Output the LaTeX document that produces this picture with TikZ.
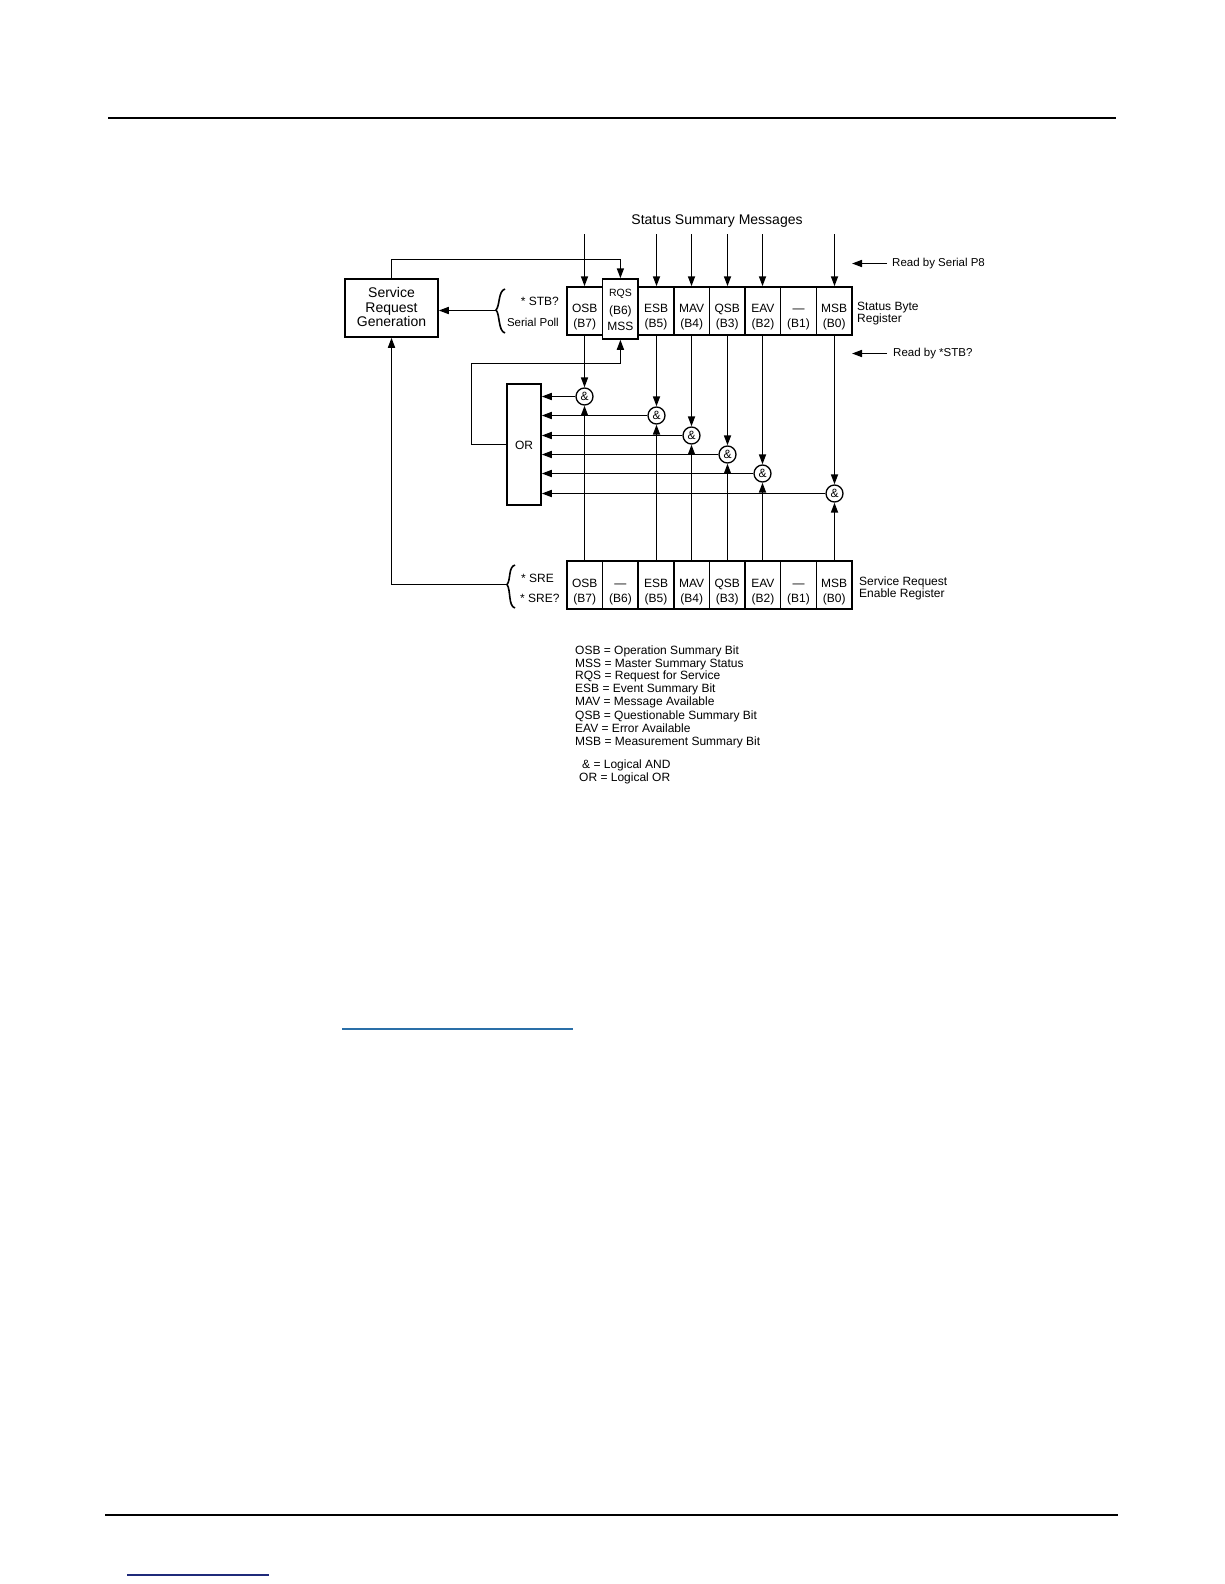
\documentclass[tikz,border=0pt]{standalone}
\usepackage{fontspec}
\setmainfont{Liberation Sans}
\usetikzlibrary{arrows.meta}
\definecolor{linkblue}{HTML}{2A6FA8}
\definecolor{linknavy}{HTML}{1F2A7A}
\begin{document}
\begin{tikzpicture}[x=1pt,y=-1pt,
  box/.style={draw, line width=1.5pt, inner sep=0pt},
  cellbox/.style={box, minimum width=35.625pt, minimum height=48pt},
  txt/.style={inner sep=0pt, text height=0.72em, text depth=0pt, font=\fontsize{12}{14}\selectfont},
  txtsm/.style={txt, font=\fontsize{11.5}{13}\selectfont},
  txtbig/.style={txt, font=\fontsize{14}{16}\selectfont},
  ln/.style={line width=1.6pt},
  arr/.style={ln, -{Triangle[length=10pt,width=7pt]}},
  andg/.style={draw, circle, line width=1.3pt, minimum size=17pt, inner sep=0pt, fill=white, font=\fontsize{12}{13}\selectfont}
]
\useasboundingbox (0,0) rectangle (1224,1584);

% page rules
\draw[line width=1.5pt] (108,118) -- (1116,118);
\draw[line width=2.7pt] (105,1515) -- (1118,1515);
\draw[linkblue, line width=1.3pt] (342,1029) -- (573,1029);
\draw[linknavy, line width=1.3pt] (127,1575) -- (269,1575);

% title
\node[txtbig] (title) at (717,221) {Status Summary Messages};

% service request generation
\node[box, minimum width=93pt, minimum height=58pt] (srg) at (391.5,308) {};
\node[txtbig] (srg1) at (391.5,294) {Service};
\node[txtbig] (srg2) at (391.5,308.5) {Request};
\node[txtbig] (srg3) at (391.5,323) {Generation};

% top register cells
\foreach \i/\a/\b in {0/OSB/(B7),2/ESB/(B5),3/MAV/(B4),4/QSB/(B3),5/EAV/(B2),6/—/(B1),7/MSB/(B0)}{
  \pgfmathsetmacro\cx{584.8+35.625*\i}
  \node[cellbox] (t\i) at (\cx,311) {};
  \node[txt] (t\i a) at (\cx,309) {\a};
  \node[txt] (t\i b) at (\cx,323.5) {\b};
}
% RQS cell
\node[box, minimum width=35.625pt, minimum height=60pt, fill=white] (t1) at (620.4,309) {};
\node[txt, font=\fontsize{10.5}{12}\selectfont] (t1a) at (620.4,293) {RQS};
\node[txt] (t1b) at (620.4,310.5) {(B6)};
\node[txt] (t1c) at (620.4,327) {MSS};

% bottom register cells
\foreach \i/\a/\b in {0/OSB/(B7),1/—/(B6),2/ESB/(B5),3/MAV/(B4),4/QSB/(B3),5/EAV/(B2),6/—/(B1),7/MSB/(B0)}{
  \pgfmathsetmacro\cx{584.8+35.625*\i}
  \node[cellbox] (b\i) at (\cx,585) {};
  \node[txt] (b\i a) at (\cx,584) {\a};
  \node[txt] (b\i b) at (\cx,599) {\b};
}

% right labels
\node[txt, anchor=west] (sbr1) at (857,307) {Status Byte};
\node[txt, anchor=west] (sbr2) at (857,318.5) {Register};
\node[txt, anchor=west] (sre1) at (859,581.5) {Service Request};
\node[txt, anchor=west] (sre2) at (859,593.5) {Enable Register};

% read-by arrows
\coordinate (rsA) at (887,263.5); \coordinate (rsB) at (852,263.5);
\coordinate (rtA) at (887,353.5); \coordinate (rtB) at (852,353.5);
\draw[arr] (rsA) -- (rsB);
\draw[arr] (rtA) -- (rtB);
\node[txtsm, anchor=west] (rsT) at (892,263) {Read by Serial P8};
\node[txtsm, anchor=west] (rtT) at (893,353) {Read by *STB?};

% status summary message arrows
\foreach \i in {0,2,3,4,5,7}{
  \pgfmathsetmacro\cx{floor(584.8+35.625*\i)+0.5}
  \coordinate (s\i) at (\cx,234);
  \draw[arr] (s\i) -- (s\i |- t\i.north);
}

% braces and queries
\draw[ln] (505,289) .. controls (498,291) and (500,306) .. (496,310) .. controls (500,314) and (498,331) .. (505,333);
\coordinate (brT) at (496,310.5);
\node[txt, anchor=east] (stbq) at (559,302) {* STB?};
\node[txtsm, anchor=east] (spoll) at (559,323) {Serial Poll};
\draw[ln] (515,565) .. controls (508,567) and (511,580) .. (507,584.5) .. controls (511,590) and (508,606) .. (515,608);
\coordinate (brB) at (507,584.5);
\node[txt, anchor=west] (sre) at (521,579) {* SRE};
\node[txt, anchor=west] (sreq) at (520,599) {* SRE?};

\draw[arr] (brT) -- (brT -| srg.east);
\draw[arr] (brB) -| (srg.south);

% feedback from SRG to RQS
\coordinate (fbT) at (391.5,259.5);
\draw[arr] (srg.north) -- (fbT) -| (t1.north);

% OR gate
\node[box, minimum width=34pt, minimum height=121pt] (or) at (524,444.5) {};
\node[txt] (ort) at (524,446) {OR};
\coordinate (fbL) at (471.5,363.5);
\draw[arr] (or.west) -| (fbL) -| (t1.south);

% AND gates
\foreach \i/\y in {0/396.5,2/415.5,3/435.5,4/454.5,5/473.5,7/493.5}{
  \pgfmathsetmacro\cx{floor(584.8+35.625*\i)+0.5}
  \node[andg] (a\i) at (\cx,\y) {\&};
  \draw[arr] (a\i |- t\i.south) -- (a\i.north);
  \draw[arr] (a\i |- b\i.north) -- (a\i.south);
  \draw[arr] (a\i.west) -- (a\i.west -| or.east);
}

% legend
\node[txt, anchor=west] (l1) at (575,651) {OSB = Operation Summary Bit};
\node[txt, anchor=west] (l2) at (575,663.5) {MSS = Master Summary Status};
\node[txt, anchor=west] (l3) at (575,676) {RQS = Request for Service};
\node[txt, anchor=west] (l4) at (575,689) {ESB = Event Summary Bit};
\node[txt, anchor=west] (l5) at (575,702) {MAV = Message Available};
\node[txt, anchor=west] (l6) at (575,715.5) {QSB = Questionable Summary Bit};
\node[txt, anchor=west] (l7) at (575,728.5) {EAV = Error Available};
\node[txt, anchor=west] (l8) at (575,742) {MSB = Measurement Summary Bit};
\node[txt, anchor=west] (l9) at (582,765) {\& = Logical AND};
\node[txt, anchor=west] (l10) at (579,778) {OR = Logical OR};
\end{tikzpicture}
\end{document}
